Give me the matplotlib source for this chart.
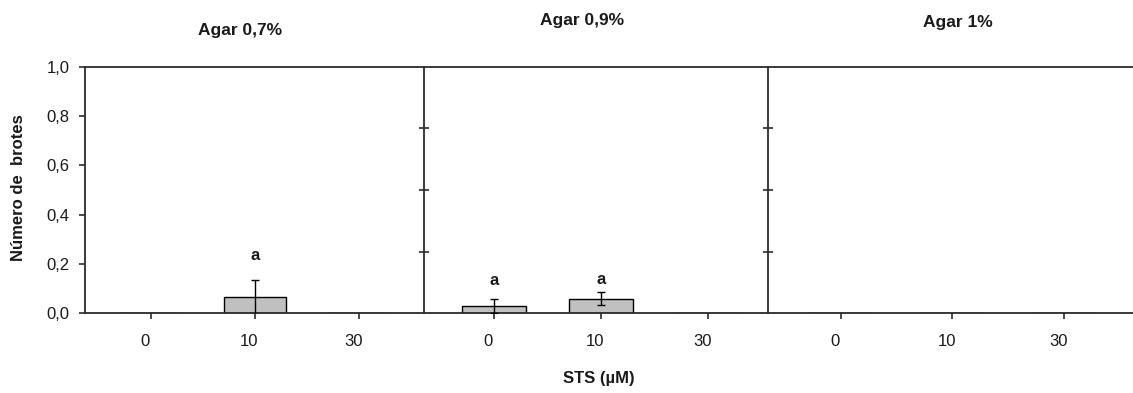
import matplotlib
matplotlib.use("Agg")
import matplotlib.pyplot as plt
import matplotlib.transforms as mtransforms
import numpy as np

# Shoot number per STS concentration, for three agar levels
sts_levels = ["0", "10", "30"]
agar_titles = ["Agar 0,7%", "Agar 0,9%", "Agar 1%"]
means_07 = [0.0, 0.065, 0.0]
sd_07 = [0.0, 0.07, 0.0]
means_09 = [0.028, 0.058, 0.0]
sd_09 = [0.03, 0.027, 0.0]
means_1 = [0.0, 0.0, 0.0]
sd_1 = [0.0, 0.0, 0.0]
letters_07 = ["", "a", ""]
letters_09 = ["a", "a", ""]
letters_1 = ["", "", ""]

y_ticks = [0.0, 0.2, 0.4, 0.6, 0.8, 1.0]
y_tick_labels = ["0,0", "0,2", "0,4", "0,6", "0,8", "1,0"]
divider_ticks = [0.25, 0.5, 0.75]

W, H = 1133, 393
plt.rcParams["font.family"] = ["Liberation Sans", "DejaVu Sans"]
fig = plt.figure(figsize=(W / 100, H / 100), dpi=100)

LINE = "#2b2b2b"
TEXT = "#1a1a1a"
BAR = "#c0c0c0"

y0_px, y1_px = 313, 67
# panel pixel extents and x-limits (category positions 0, 1, 2)
panels = [
    dict(x0=85, x1=424, xlim=(-0.635, 2.625), means=means_07, sd=sd_07,
         letters=letters_07, letter_off=[0, 12, 0]),
    dict(x0=424, x1=768, xlim=(-0.654, 2.56), means=means_09, sd=sd_09,
         letters=letters_09, letter_off=[8, 4, 0]),
    dict(x0=768, x1=1134, xlim=(-0.655, 2.63), means=means_1, sd=sd_1,
         letters=letters_1, letter_off=[0, 0, 0]),
]

x = np.arange(len(sts_levels))
label_shift = mtransforms.ScaledTranslation(-4 / 72, 0, fig.dpi_scale_trans)

for i, p in enumerate(panels):
    ax = fig.add_axes([p["x0"] / W, 1 - y0_px / H,
                       (p["x1"] - p["x0"]) / W, (y0_px - y1_px) / H])
    ax.set_xlim(*p["xlim"])
    ax.set_ylim(0, 1.0)
    ax.patch.set_alpha(0)

    means = np.array(p["means"])
    sd = np.array(p["sd"])
    ax.bar(x, means, width=0.6, color=BAR, edgecolor="black", linewidth=1.0,
           zorder=2)
    shown = means > 0
    ax.errorbar(x[shown], means[shown], yerr=sd[shown], fmt="none",
                ecolor="black", elinewidth=1.0, capsize=3, capthick=1.0,
                zorder=3, clip_on=True)
    for xi, m, s, lab, off in zip(x, means, sd, p["letters"], p["letter_off"]):
        if lab:
            ax.annotate(lab, (xi, m + s), xytext=(0, off),
                        textcoords="offset points", ha="center", va="bottom",
                        fontsize=12, fontweight="bold", color=TEXT)

    for side in ["top", "bottom", "left"]:
        ax.spines[side].set_color(LINE)
        ax.spines[side].set_linewidth(1.3)
    ax.spines["right"].set_visible(False)

    ax.set_xticks(x)
    ax.set_xticklabels(sts_levels, fontsize=12, color=TEXT)
    ax.tick_params(axis="x", direction="out", length=4, width=1.2,
                   color=LINE, pad=11)
    for t in ax.get_xticklabels():
        t.set_transform(t.get_transform() + label_shift)

    if i == 0:
        ax.set_yticks(y_ticks)
        ax.set_yticklabels(y_tick_labels, fontsize=12, color=TEXT)
        ax.tick_params(axis="y", direction="out", length=4, width=1.2,
                       color=LINE, pad=7)
    else:
        ax.set_yticks(divider_ticks)
        ax.set_yticklabels([])
        ax.tick_params(axis="y", direction="inout", length=7, width=1.2,
                       color=LINE)

fig.text(240 / W, 1 - 30 / H, agar_titles[0], ha="center", va="center",
         fontsize=12.5, fontweight="bold", color=TEXT)
fig.text(582 / W, 1 - 20 / H, agar_titles[1], ha="center", va="center",
         fontsize=12.5, fontweight="bold", color=TEXT)
fig.text(958 / W, 1 - 22 / H, agar_titles[2], ha="center", va="center",
         fontsize=12.5, fontweight="bold", color=TEXT)

fig.text(19 / W, 1 - 188 / H, "Número de  brotes", rotation=90,
         ha="center", va="center", fontsize=12, fontweight="bold", color=TEXT)
fig.text(599 / W, 1 - 379 / H, "STS (µM)", ha="center", va="center",
         fontsize=12, fontweight="bold", color=TEXT)

fig.savefig("out.png", dpi=100)
